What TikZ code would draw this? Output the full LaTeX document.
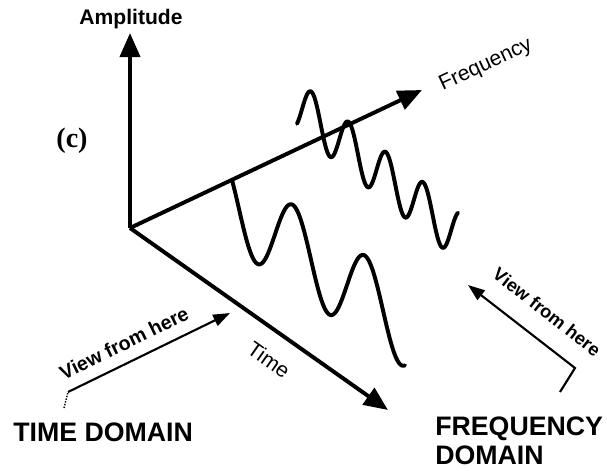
\documentclass[tikz,border=0pt]{standalone}
\usepackage{fontspec}
\setmainfont{Liberation Sans}
\newfontfamily\panelfont{Liberation Serif}
\usetikzlibrary{arrows.meta}
\definecolor{Ink}{HTML}{000000}
\tikzset{
    axisline/.style={-{Triangle[length=0.6cm, width=0.5cm]}, line width=2.8pt, color=Ink},
    waveline/.style={line width=2.8pt, color=Ink, line cap=round, line join=round},
    viewarrow/.style={-{Triangle[length=0.42cm, width=0.3cm]}, line width=1.5pt, color=Ink},
    leader/.style={line width=1pt, color=Ink},
    axislabel/.style={font=\fontsize{15}{17}\selectfont, text=Ink, inner sep=1pt},
    viewlabel/.style={font=\bfseries\fontsize{14}{16}\selectfont, text=Ink, inner sep=1pt},
    domainlabel/.style={font=\bfseries\fontsize{19}{20.6}\selectfont, text=Ink, inner sep=0pt, align=left},
}

\begin{document}
\begin{tikzpicture}[x=0.025cm, y=-0.025cm]
    \useasboundingbox (0,0) rectangle (607,470);

    % Axes
    \coordinate (origin) at (130,228);
    \coordinate (amptip) at (130,33);
    \coordinate (freqtip) at (422,90);
    \coordinate (timetip) at (388,410);
    \draw[axisline] (origin) -- (amptip);
    \draw[axisline] (origin) -- (freqtip);
    \draw[axisline] (origin) -- (timetip);

    \node[axislabel, font=\bfseries\fontsize{15}{17}\selectfont] (amplabel) at (131,19) {Amplitude};
    \node[font=\panelfont\bfseries\fontsize{20}{22}\selectfont] (panel) at (72,141) {(c)};
    \node[axislabel, rotate=25] (freqlabel) at (486,65) {Frequency};
    \node[axislabel, rotate=-35] (timelabel) at (269,360) {Time};

    % Low frequency component
    \draw[waveline] plot[domain=232:405, samples=140]
        (\x, {231.5+0.704*(\x-271)+42*cos(5*(\x-257))});

    % High frequency component
    \draw[waveline] plot[domain=297:458, samples=160]
        (\x, {169.5+0.81*(\x-376.6)+25*cos(9.651*(\x-330))});

    % View from the time side
    \node[domainlabel, anchor=base west] (tdlabel) at (13,441) {TIME DOMAIN};
    \coordinate (tdfoot) at (64,408);
    \coordinate (tdstart) at (68,392);
    \coordinate (tdend) at (230,313);
    \draw[leader, densely dotted] (tdfoot) -- (tdstart);
    \draw[viewarrow] (tdstart) -- (tdend);
    \node[viewlabel, rotate=26] (tdview) at (124,343) {View from here};

    % View from the frequency side
    \node[domainlabel, anchor=north west] (fdlabel) at (435,417) {FREQUENCY\\DOMAIN};
    \coordinate (fdfoot) at (560,392);
    \coordinate (fdstart) at (575,368);
    \coordinate (fdend) at (468,285);
    \draw[viewarrow] (fdfoot) -- (fdstart) -- (fdend);
    \node[viewlabel, font=\bfseries\fontsize{13}{15}\selectfont, rotate=-38] (fdview) at (547,312) {View from here};
\end{tikzpicture}
\end{document}
